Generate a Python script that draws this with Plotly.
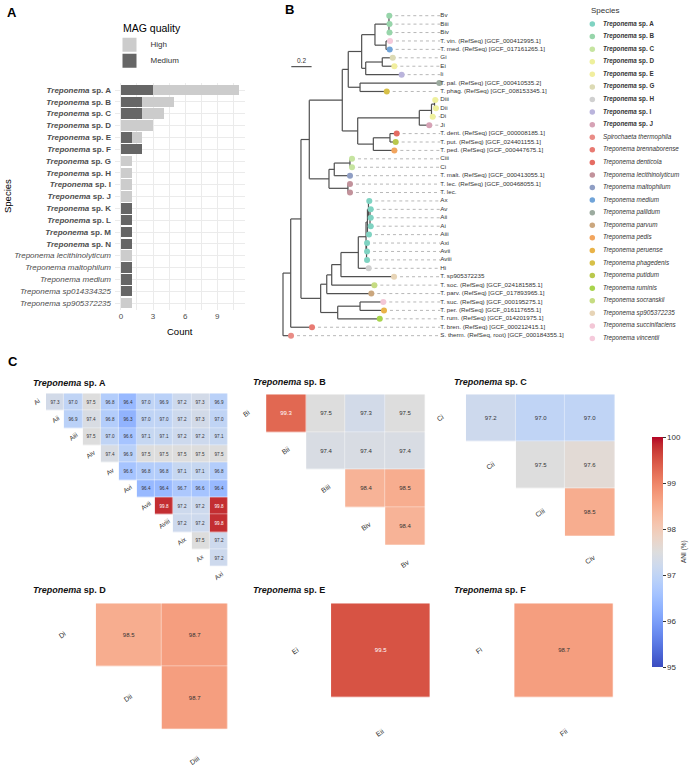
import re
import plotly.graph_objects as go

W, H = 689, 765
FONT = "Liberation Sans, Arial, sans-serif"

# ======================= DATA =======================
# ---- Panel A: MAG counts per species ----
mag_species = ["Treponema sp. A", "Treponema sp. B", "Treponema sp. C", "Treponema sp. D",
               "Treponema sp. E", "Treponema sp. F", "Treponema sp. G", "Treponema sp. H",
               "Treponema sp. I", "Treponema sp. J", "Treponema sp. K", "Treponema sp. L",
               "Treponema sp. M", "Treponema sp. N", "Treponema lecithinolyticum",
               "Treponema maltophilum", "Treponema medium", "Treponema sp014334325",
               "Treponema sp905372235"]
mag_medium = [3, 2, 2, 0, 1, 2, 0, 0, 0, 0, 1, 1, 1, 1, 0, 1, 1, 1, 0]
mag_high = [8, 3, 2, 3, 1, 0, 1, 1, 1, 1, 0, 0, 0, 0, 1, 0, 0, 0, 1]
quality_levels = ["High", "Medium"]
quality_colors = ["#cccccc", "#666666"]
count_ticks = [0, 3, 6, 9]

# ---- Panel B: species legend ----
legend_species = ["Treponema sp. A", "Treponema sp. B", "Treponema sp. C", "Treponema sp. D",
                  "Treponema sp. E", "Treponema sp. G", "Treponema sp. H", "Treponema sp. I",
                  "Treponema sp. J", "Spirochaeta thermophila", "Treponema brennaborense",
                  "Treponema denticola", "Treponema lecithinolyticum", "Treponema maltophilum",
                  "Treponema medium", "Treponema pallidum", "Treponema parvum", "Treponema pedis",
                  "Treponema peruense", "Treponema phagedenis", "Treponema putidum",
                  "Treponema ruminis", "Treponema socranskii", "Treponema sp905372235",
                  "Treponema succinifaciens", "Treponema vincentii"]
legend_colors = ["#7fd3c2", "#97d5aa", "#c6e4a0", "#eef09c", "#f1ee9e", "#dcdab4", "#d0d0d0",
                 "#bab4dc", "#d6a2b5", "#e98c86", "#e87a72", "#e56c63", "#c2929b", "#8f9ec4",
                 "#70a4d9", "#9cab9f", "#cba77e", "#f2a55e", "#e9b348", "#d7c048", "#bac84c",
                 "#a8d44c", "#c6dc82", "#e7d4b6", "#f3c7d6", "#f5cadb"]

# ---- Panel B: phylogenetic tree (node depth from root, substitutions/site) ----
def N(depth, *children):
    return {"d": depth, "c": list(children)}


def L(label, species, depth):
    return {"d": depth, "label": label, "sp": species}


tree = N(0.0,
  N(0.076,
    N(0.177,
      N(0.259,
        N(0.584,
          N(0.643,
            N(0.775,
              N(0.906,
                N(1.044, L("Bv", "Treponema sp. B", 1.047), L("Biii", "Treponema sp. B", 1.049),
                  L("Biv", "Treponema sp. B", 1.049)),
                N(1.015, L("T. vin. (RefSeq) [GCF_000412995.1]", "Treponema vincentii", 1.054),
                  L("T. med. (RefSeq) [GCF_017161265.1]", "Treponema medium", 1.051))),
              N(0.815,
                N(0.978, L("Gi", "Treponema sp. G", 1.081), L("Ei", "Treponema sp. E", 1.097)),
                L("Ii", "Treponema sp. I", 1.169))),
            N(0.759, L("T. pal. (RefSeq) [GCF_000410535.2]", "Treponema pallidum", 1.540),
              L("T. phag. (RefSeq) [GCF_008153345.1]", "Treponema phagedenis", 1.022))),
          N(0.736,
            N(1.343,
              N(1.463, N(1.493, L("Diii", "Treponema sp. D", 1.500), L("Dii", "Treponema sp. D", 1.507)),
                L("Di", "Treponema sp. D", 1.475)),
              L("Ji", "Treponema sp. J", 1.441)),
            N(0.890,
              N(1.054, L("T. dent. (RefSeq) [GCF_000008185.1]", "Treponema denticola", 1.120),
                L("T. put. (RefSeq) [GCF_024401155.1]", "Treponema putidum", 1.110)),
              L("T. ped. (RefSeq) [GCF_000447675.1]", "Treponema pedis", 1.097)))),
        N(0.453,
          N(0.505, N(0.660, L("Ciii", "Treponema sp. C", 0.680), L("Ci", "Treponema sp. C", 0.680)),
            L("T. malt. (RefSeq) [GCF_000413055.1]", "Treponema maltophilum", 0.660)),
          N(0.640, L("T. lec. (RefSeq) [GCF_000468055.1]", "Treponema lecithinolyticum", 0.660),
            L("T. lec.", "Treponema lecithinolyticum", 0.660)))),
      N(0.371,
        N(0.431,
          N(0.480,
            N(0.571,
              N(0.742,
                N(0.818,
                  N(0.832,
                    N(0.842, L("Ax", "Treponema sp. A", 0.850),
                      N(0.857, L("Av", "Treponema sp. A", 0.864), L("Aii", "Treponema sp. A", 0.864),
                        L("Ai", "Treponema sp. A", 0.864))),
                    L("Aiii", "Treponema sp. A", 0.847)),
                  N(0.823, L("Axi", "Treponema sp. A", 0.828), L("Avii", "Treponema sp. A", 0.828),
                    L("Aviii", "Treponema sp. A", 0.828))),
                L("Hi", "Treponema sp. H", 0.844)),
              L("T. sp905372235", "Treponema sp905372235", 1.094)),
            L("T. soc. (RefSeq) [GCF_024181585.1]", "Treponema socranskii", 0.900)),
          L("T. parv. (RefSeq) [GCF_017893965.1]", "Treponema parvum", 0.870)),
        N(0.539,
          N(0.759, L("T. suc. (RefSeq) [GCF_000195275.1]", "Treponema succinifaciens", 0.988),
            L("T. per. (RefSeq) [GCF_016117655.1]", "Treponema peruense", 0.995)),
          L("T. rum. (RefSeq) [GCF_014201975.1]", "Treponema ruminis", 0.953)))),
    L("T. bren. (RefSeq) [GCF_000212415.1]", "Treponema brennaborense", 0.286)),
  L("S. therm. (RefSeq, root) [GCF_000184355.1]", "Spirochaeta thermophila", 0.079))
tip_label_depth = 1.55
scale_bar_length = 0.2

# ---- Panel C: pairwise ANI (%) upper triangles ----
ani_A_genomes = ["Ai", "Aii", "Aiii", "Aiv", "Av", "Avi", "Avii", "Aviii", "Aix", "Ax", "Axi"]
ani_A = [[97.3, 97.0, 97.5, 96.8, 96.4, 97.0, 96.9, 97.2, 97.3, 96.9],
         [96.9, 97.4, 96.8, 96.3, 97.0, 97.0, 97.2, 97.3, 97.0],
         [97.5, 97.0, 96.6, 97.1, 97.1, 97.2, 97.2, 97.1],
         [97.4, 96.9, 97.5, 97.5, 97.5, 97.5, 97.5],
         [96.6, 96.8, 96.8, 97.1, 97.1, 96.8],
         [96.4, 96.4, 96.7, 96.6, 96.4],
         [99.8, 97.2, 97.2, 99.8],
         [97.2, 97.2, 99.8],
         [97.5, 97.2],
         [97.2]]
ani_B_genomes = ["Bi", "Bii", "Biii", "Biv", "Bv"]
ani_B = [[99.3, 97.5, 97.3, 97.5],
         [97.4, 97.4, 97.4],
         [98.4, 98.5],
         [98.4]]
ani_C_genomes = ["Ci", "Cii", "Ciii", "Civ"]
ani_C = [[97.2, 97.0, 97.0],
         [97.5, 97.6],
         [98.5]]
ani_D_genomes = ["Di", "Dii", "Diii"]
ani_D = [[98.5, 98.7],
         [98.7]]
ani_E_genomes = ["Ei", "Eii"]
ani_E = [[99.5]]
ani_F_genomes = ["Fi", "Fii"]
ani_F = [[98.7]]
ani_titles = ["Treponema sp. A", "Treponema sp. B", "Treponema sp. C",
              "Treponema sp. D", "Treponema sp. E", "Treponema sp. F"]
ani_min, ani_max = 95, 100
ani_ticks = [95, 96, 97, 98, 99, 100]

# coolwarm colour map (Moreland)
coolwarm_rgb = [(59, 76, 192), (68, 90, 204), (77, 104, 215), (87, 117, 225), (98, 130, 234),
                (108, 142, 241), (119, 154, 247), (130, 165, 251), (141, 176, 254), (152, 185, 255),
                (163, 194, 255), (174, 201, 253), (184, 208, 249), (194, 213, 244), (204, 217, 238),
                (213, 219, 230), (221, 221, 221), (229, 216, 209), (236, 211, 197), (241, 204, 185),
                (245, 196, 173), (247, 187, 160), (247, 177, 148), (247, 166, 135), (244, 154, 123),
                (241, 141, 111), (236, 127, 99), (229, 112, 88), (222, 96, 77), (213, 80, 66),
                (203, 62, 56), (192, 40, 47), (180, 4, 38)]
coolwarm = [[i / (len(coolwarm_rgb) - 1), "rgb(%d,%d,%d)" % c] for i, c in enumerate(coolwarm_rgb)]


# ======================= HELPERS =======================
def dom_x(a, b):
    return [a / W, b / W]


def dom_y(top, bottom):
    return [1 - bottom / H, 1 - top / H]


def px(x):
    return x / W


def py(y):
    return 1 - y / H


def fmt_species(name):
    m = re.match(r"^(Treponema) (sp\. [A-Z])$", name)
    if m:
        return "<b><i>%s</i> %s</b>" % (m.group(1), m.group(2))
    return "<i>%s</i>" % name


def note(x, y, text, size, color="#333", xanchor="center", yanchor="middle", angle=0, **kw):
    d = dict(x=px(x), y=py(y), xref="paper", yref="paper", text=text, showarrow=False,
             xanchor=xanchor, yanchor=yanchor, textangle=angle, font=dict(size=size, color=color))
    d.update(kw)
    return d


fig = go.Figure()
annotations = []
shapes = []
layout_axes = {}

# ======================= PANEL A =======================
y_idx = list(range(len(mag_species)))
fig.add_trace(go.Bar(y=y_idx, x=mag_medium, orientation="h", width=0.9,
                     marker=dict(color=quality_colors[1], line=dict(width=0)),
                     xaxis="x", yaxis="y", showlegend=False, hoverinfo="skip"))
fig.add_trace(go.Bar(y=y_idx, x=mag_high, orientation="h", width=0.9,
                     marker=dict(color=quality_colors[0], line=dict(width=0)),
                     xaxis="x", yaxis="y", showlegend=False, hoverinfo="skip"))
max_count = max(m + h for m, h in zip(mag_medium, mag_high))
pad = 0.05 * max_count
layout_axes["xaxis"] = dict(domain=dom_x(115, 244.6), anchor="y", range=[-pad, max_count + pad],
                            tickvals=count_ticks, showgrid=True, gridcolor="#ebebeb", gridwidth=1,
                            minor=dict(tickvals=[t + 1.5 for t in count_ticks], showgrid=True,
                                       gridcolor="#ebebeb", gridwidth=0.5),
                            zeroline=False, showline=False, ticks="",
                            tickfont=dict(size=8, color="#4d4d4d"), fixedrange=True)
layout_axes["yaxis"] = dict(domain=dom_y(82.9, 310.1), anchor="x",
                            range=[len(mag_species) - 0.4, -0.6],
                            tickvals=y_idx, ticktext=[fmt_species(s) for s in mag_species],
                            showgrid=True, gridcolor="#ebebeb", gridwidth=1, zeroline=False,
                            ticks="", ticklabelstandoff=3,
                            tickfont=dict(size=8, color="#4d4d4d"), fixedrange=True)
annotations.append(note(180, 331, "Count", 9.5, "#000"))
annotations.append(note(8, 196, "Species", 9.5, "#000", angle=-90))
# MAG quality legend (x unit = 15 px, key centred at 129.5 px)
fig.add_trace(go.Scatter(x=[0] * len(quality_levels), y=list(range(len(quality_levels))),
                         mode="markers", marker=dict(symbol="square", size=14, color=quality_colors,
                                                     line=dict(width=0)),
                         xaxis="x2", yaxis="y2", showlegend=False, hoverinfo="skip"))
fig.add_trace(go.Scatter(x=[1.4] * len(quality_levels), y=list(range(len(quality_levels))),
                         mode="text", text=quality_levels, textposition="middle right",
                         textfont=dict(size=8, color="#333"), cliponaxis=False,
                         xaxis="x2", yaxis="y2", showlegend=False, hoverinfo="skip"))
layout_axes["xaxis2"] = dict(domain=dom_x(122, 212), anchor="y2", range=[-0.5, 5.5], visible=False)
layout_axes["yaxis2"] = dict(domain=dom_y(36.7, 68.7), anchor="x2", range=[1.5, -0.5], visible=False)
annotations.append(note(121, 28.5, "MAG quality", 10.5, "#000", xanchor="left"))

# ======================= PANEL B: TREE =======================
species_color = dict(zip(legend_species, legend_colors))
tips = []
seg_x, seg_y = [], []


def place(node):
    if "label" in node:
        node["y"] = len(tips)
        tips.append(node)
        return node["y"]
    ys = [place(c) for c in node["c"]]
    node["y"] = (min(ys) + max(ys)) / 2
    seg_x.extend([node["d"], node["d"], None])
    seg_y.extend([min(ys), max(ys), None])
    for c in node["c"]:
        seg_x.extend([node["d"], c["d"], None])
        seg_y.extend([c["y"], c["y"], None])
    return node["y"]


place(tree)
dot_x, dot_y = [], []
for t in tips:
    dot_x.extend([t["d"], tip_label_depth, None])
    dot_y.extend([t["y"], t["y"], None])
fig.add_trace(go.Scatter(x=dot_x, y=dot_y, mode="lines",
                         line=dict(color="#9a9a9a", width=0.7, dash="dot"),
                         xaxis="x3", yaxis="y3", showlegend=False, hoverinfo="skip"))
fig.add_trace(go.Scatter(x=seg_x, y=seg_y, mode="lines", line=dict(color="#505050", width=1.2),
                         xaxis="x3", yaxis="y3", showlegend=False, hoverinfo="skip"))
fig.add_trace(go.Scatter(x=[t["d"] for t in tips], y=[t["y"] for t in tips], mode="markers",
                         marker=dict(size=6, color=[species_color[t["sp"]] for t in tips],
                                     line=dict(width=0)),
                         xaxis="x3", yaxis="y3", showlegend=False, hoverinfo="skip", cliponaxis=False))
fig.add_trace(go.Scatter(x=[tip_label_depth] * len(tips), y=[t["y"] for t in tips], mode="text",
                         text=[t["label"] for t in tips], textposition="middle right",
                         textfont=dict(size=6.2, color="#333"), cliponaxis=False,
                         xaxis="x3", yaxis="y3", showlegend=False, hoverinfo="skip"))
# tree axis: depth 0 -> 283px, 101.5 px per unit; tip i -> 15.7 + 8.42*i px
tx0, tscale = 283.0, 101.5
ty0, tstep = 15.7, 8.42
layout_axes["xaxis3"] = dict(domain=dom_x(250, 590), anchor="y3",
                             range=[(250 - tx0) / tscale, (590 - tx0) / tscale], visible=False)
layout_axes["yaxis3"] = dict(domain=dom_y(3, 345), anchor="x3",
                             range=[(345 - ty0) / tstep, (3 - ty0) / tstep], visible=False)
sb_y = (66.7 - ty0) / tstep
sb_x0 = (291.3 - tx0) / tscale
shapes.append(dict(type="line", xref="x3", yref="y3", x0=sb_x0, x1=sb_x0 + scale_bar_length,
                   y0=sb_y, y1=sb_y, line=dict(color="#333", width=1)))
annotations.append(dict(x=sb_x0 + scale_bar_length / 2, y=sb_y, xref="x3", yref="y3",
                        text=str(scale_bar_length), xanchor="center", yanchor="bottom", yshift=1,
                        showarrow=False, font=dict(size=6.5, color="#333")))

# species legend
lg_idx = list(range(len(legend_species)))
fig.add_trace(go.Scatter(x=[7.3] * len(lg_idx), y=lg_idx, mode="markers",
                         marker=dict(size=5.5, color=legend_colors, line=dict(width=0)),
                         xaxis="x4", yaxis="y4", showlegend=False, hoverinfo="skip", cliponaxis=False))
fig.add_trace(go.Scatter(x=[18] * len(lg_idx), y=lg_idx, mode="text",
                         text=[fmt_species(s) for s in legend_species], textposition="middle right",
                         textfont=dict(size=6.3, color="#333"), cliponaxis=False,
                         xaxis="x4", yaxis="y4", showlegend=False, hoverinfo="skip"))
ly0, lstep = 24.0, 12.58
layout_axes["xaxis4"] = dict(domain=dom_x(585, 689), anchor="y4", range=[0, 104], visible=False)
layout_axes["yaxis4"] = dict(domain=dom_y(14, 345), anchor="x4",
                             range=[(345 - ly0) / lstep, (14 - ly0) / lstep], visible=False)
annotations.append(note(589, 11, "Species", 8, xanchor="left"))

# ======================= PANEL C: ANI heatmaps =======================
ani_sets = [(ani_A_genomes, ani_A), (ani_B_genomes, ani_B), (ani_C_genomes, ani_C),
            (ani_D_genomes, ani_D), (ani_E_genomes, ani_E), (ani_F_genomes, ani_F)]
# geometry: left px of column 1, cell width, top px of row 0, cell height, title x, title y, text size, label size
ani_geom = [(46, 18.17, 393.3, 17.33, 31, 383.3, 4.6, 6.5),
            (266, 39.83, 394.3, 37.67, 250.7, 382.3, 6, 7),
            (465.7, 49.77, 394.3, 47.23, 451.7, 382.3, 6, 7),
            (95.7, 66.0, 603.3, 63.0, 30.7, 590, 6, 7),
            (330.7, 99.3, 603.3, 94.4, 250.7, 590, 6, 7),
            (514.0, 99.3, 603.3, 94.4, 451.7, 590, 6, 7)]
hi_threshold = 99.0
for p, ((genomes, tri), geom, title) in enumerate(zip(ani_sets, ani_geom, ani_titles)):
    ax_n = 5 + p
    xl, cw, yt, ch, tx, ty, tsize, lsize = geom
    n = len(genomes)
    z_lo = [[None] * n for _ in range(n)]
    z_hi = [[None] * n for _ in range(n)]
    t_lo = [[""] * n for _ in range(n)]
    t_hi = [[""] * n for _ in range(n)]
    for i, row in enumerate(tri):
        for k, v in enumerate(row):
            j = i + 1 + k
            if v >= hi_threshold:
                z_hi[i][j] = v
                t_hi[i][j] = "%.1f" % v
            else:
                z_lo[i][j] = v
                t_lo[i][j] = "%.1f" % v
    for z, t, col in ((z_lo, t_lo, "#333333"), (z_hi, t_hi, "#ffffff")):
        if all(v is None for r in z for v in r):
            continue
        fig.add_trace(go.Heatmap(z=z, x=list(range(n)), y=list(range(n)), text=t,
                                 texttemplate="%{text}", textfont=dict(size=tsize, color=col),
                                 coloraxis="coloraxis", xaxis="x%d" % ax_n, yaxis="y%d" % ax_n,
                                 hoverinfo="skip", xgap=0.4, ygap=0.4))
    layout_axes["xaxis%d" % ax_n] = dict(domain=dom_x(xl, xl + (n - 1) * cw), anchor="y%d" % ax_n,
                                         range=[0.5, n - 0.5], visible=False)
    layout_axes["yaxis%d" % ax_n] = dict(domain=dom_y(yt, yt + (n - 1) * ch), anchor="x%d" % ax_n,
                                         range=[n - 1.5, -0.5], visible=False)
    annotations.append(note(tx, ty, fmt_species(title), 9, "#111", xanchor="left"))
    for k, g in enumerate(genomes):
        cx = xl + (k - 1) * cw + cw / 2
        cy = yt + k * ch + ch / 2
        if k < n - 1:
            cx = max(cx, xl + k * cw - 35)
        if k > 0:
            cy = min(cy, yt + k * ch + 35)
        annotations.append(note(cx, cy, g, lsize, angle=-35))

annotations.append(note(684, 552, "ANI (%)", 6.5, angle=-90))

# panel letters
for letter, lx, ly in (("A", 5, 12.5), ("B", 283, 10), ("C", 6, 361)):
    annotations.append(note(lx, ly, "<b>%s</b>" % letter, 13, "#000", xanchor="left"))

fig.update_layout(
    width=W, height=H, autosize=False,
    margin=dict(l=0, r=0, t=0, b=0, pad=0),
    paper_bgcolor="white", plot_bgcolor="rgba(0,0,0,0)",
    font=dict(family=FONT, color="#333"),
    barmode="stack", showlegend=False,
    coloraxis=dict(cmin=ani_min, cmax=ani_max, colorscale=coolwarm,
                   colorbar=dict(x=px(652), xanchor="left", y=py(437), yanchor="top",
                                 len=230 / H, lenmode="fraction", thickness=11,
                                 thicknessmode="pixels", outlinewidth=0, xpad=0, ypad=0,
                                 tickvals=ani_ticks, ticks="outside", ticklen=3, tickcolor="#333",
                                 tickfont=dict(size=8, color="#333"))),
    annotations=annotations, shapes=shapes,
    **layout_axes,
)

fig.write_html("out.html")
